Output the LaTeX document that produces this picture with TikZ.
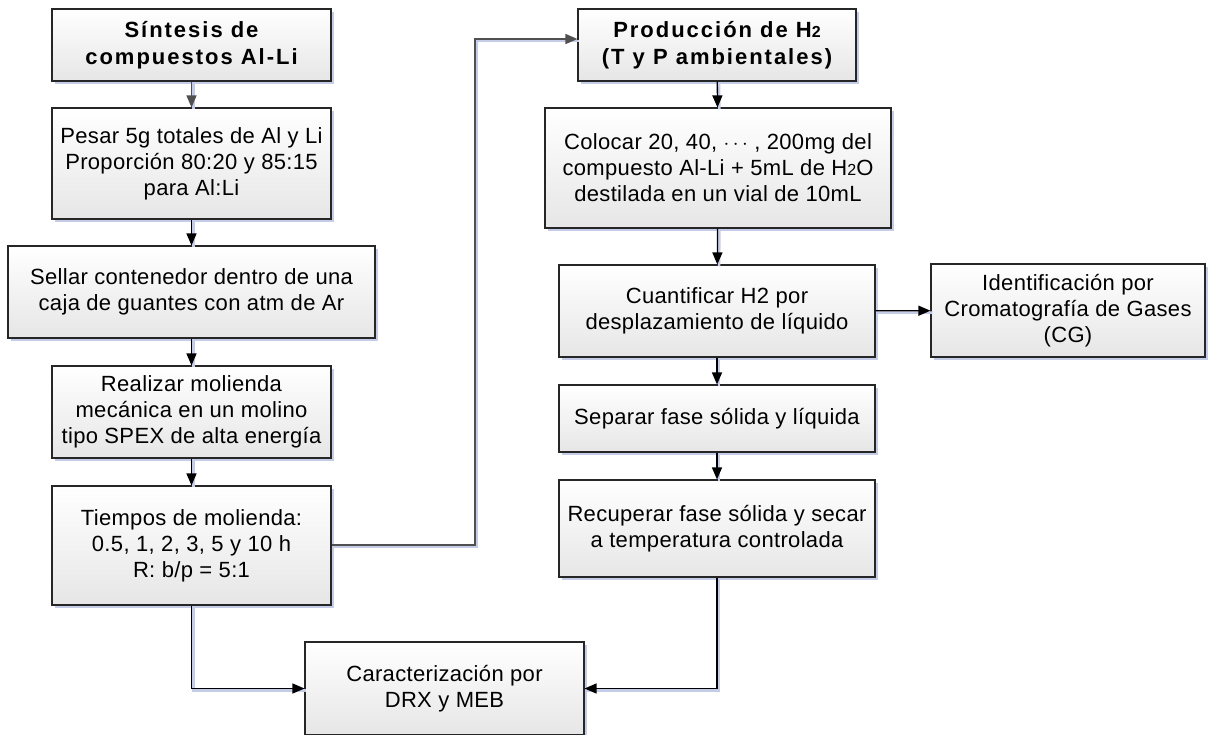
\documentclass[tikz,border=0pt]{standalone}
\usepackage{fontspec}
\setmainfont{Liberation Sans}
\usetikzlibrary{arrows.meta,shadows}
\definecolor{shadowc}{RGB}{196,204,232}
\definecolor{boxbot}{RGB}{230,230,230}
\definecolor{graylink}{RGB}{80,80,80}
\newcommand{\smalltwo}{{\fontsize{16}{16}\selectfont 2}}
\tikzset{
  box/.style={draw=black!85, line width=1.1pt, top color=white, bottom color=boxbot,
    drop shadow={shadow xshift=3pt, shadow yshift=-3pt, fill=shadowc, opacity=1},
    align=center, inner sep=2pt, font=\fontsize{22}{26}\selectfont\addfontfeature{LetterSpace=1.5}},
  titlebox/.style={box, font=\fontsize{22}{27}\selectfont\bfseries\addfontfeature{LetterSpace=9}},
  link/.style={line width=1.3pt, draw=black, -{Triangle[length=12pt,width=10pt]},
    preaction={draw=shadowc, line width=2.5pt, -, transform canvas={xshift=1.8pt,yshift=-1.8pt}}},
  glink/.style={link, draw=graylink}
}
\begin{document}
\begin{tikzpicture}[x=1pt,y=-1pt]
\useasboundingbox (0,0) rectangle (1208,734);
% left column
\node[titlebox, minimum width=279pt, minimum height=72pt] (b1) at (191.5,45) {Síntesis de\\compuestos Al-Li};
\node[box, minimum width=279pt, minimum height=111pt] (b2) at (191.5,163.5) {Pesar 5g totales de Al y Li\\Proporción 80:20 y 85:15\\para Al:Li};
\node[box, minimum width=367pt, minimum height=92pt] (b3) at (191.5,292) {Sellar contenedor dentro de una\\caja de guantes con atm de Ar};
\node[box, minimum width=279pt, minimum height=92pt] (b4) at (191.5,412) {Realizar molienda\\mecánica en un molino\\tipo SPEX de alta energía};
\node[box, minimum width=279pt, minimum height=119pt] (b5) at (191.5,545.5) {Tiempos de molienda:\\0.5, 1, 2, 3, 5 y 10 h\\R: b/p = 5:1};
% right column
\node[titlebox, minimum width=278pt, minimum height=72pt] (p1) at (717,45) {Producción de H\smalltwo\\(T y P ambientales)};
\node[box, minimum width=346pt, minimum height=120pt] (p2) at (718,168) {Colocar 20, 40, $\cdots$ , 200mg del\\compuesto Al-Li + 5mL de H\smalltwo O\\destilada en un vial de 10mL};
\node[box, minimum width=316pt, minimum height=92pt] (p3) at (717,311) {Cuantificar H2 por\\desplazamiento de líquido};
\node[box, minimum width=274pt, minimum height=93pt] (id) at (1068,310.5) {Identificación por\\Cromatografía de Gases\\(CG)};
\node[box, minimum width=316pt, minimum height=67pt] (p4) at (717,418.5) {Separar fase sólida y líquida};
\node[box, minimum width=316pt, minimum height=97pt] (p5) at (717,528.5) {Recuperar fase sólida y secar\\a temperatura controlada};
% bottom
\node[box, minimum width=279pt, minimum height=93pt] (c) at (444.5,688.5) {Caracterización por\\DRX y MEB};
% connectors
\draw[glink] (b1) -- (b2);
\draw[link] (b2) -- (b3);
\draw[link] (b3) -- (b4);
\draw[link] (b4) -- (b5);
\coordinate (k1) at (475,545);
\coordinate (k2) at (475,39);
\draw[glink] (b5.east |- k1) -- (k1) -- (k2) -- (p1.west |- k2);
\draw[link] (p1) -- (p2);
\draw[link] (p2) -- (p3);
\draw[link] (p3) -- (id);
\draw[link] (p3) -- (p4);
\draw[link] (p4) -- (p5);
\draw[link] (b5.south) |- (c.west);
\draw[link] (p5.south) |- (c.east);
\end{tikzpicture}
\end{document}
